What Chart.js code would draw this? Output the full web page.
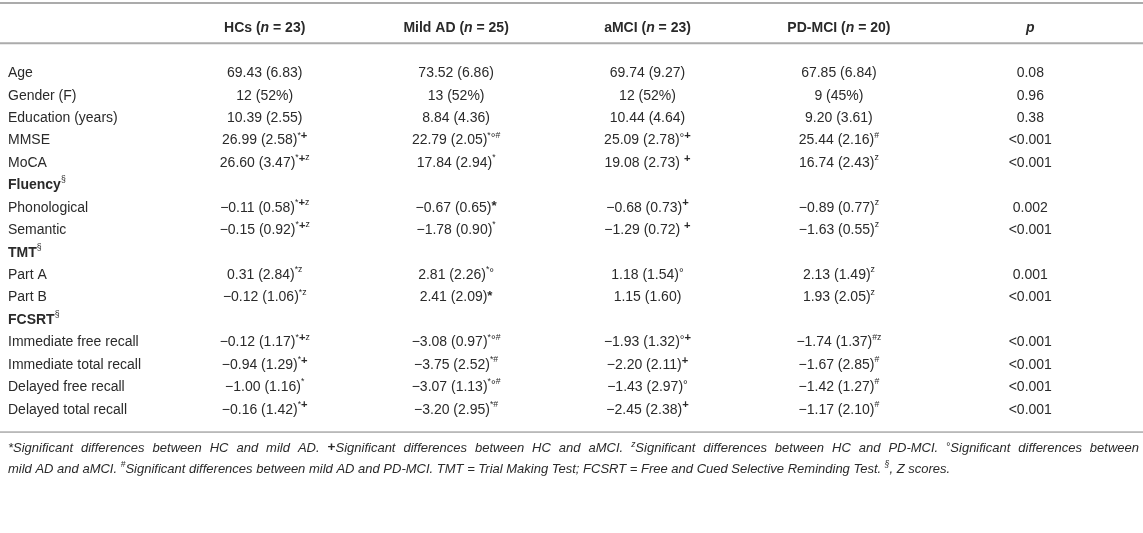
<!DOCTYPE html>
<html>
<head>
<meta charset="utf-8">
<script src="https://cdn.jsdelivr.net/npm/chart.js@4/dist/chart.umd.min.js"></script>
<style>
  body { margin: 0; background: #fff; }
  #wrap { width: 1143px; height: 533px; position: relative; }
</style>
</head>
<body>
<div id="wrap"><canvas id="tableChart"></canvas></div>
<script>
// --- Table data (text after "^" is drawn as superscript, "@" = bold asterisk, "o" = degree ring) ---
const groups = ['HCs', 'Mild AD', 'aMCI', 'PD-MCI'];
const groupN = [23, 25, 23, 20];
const columns = ['HCs', 'Mild AD', 'aMCI', 'PD-MCI', 'p'];

const rowLabels = ['Age', 'Gender (F)', 'Education (years)', 'MMSE', 'MoCA', 'Fluency',
  'Phonological', 'Semantic', 'TMT', 'Part A', 'Part B', 'FCSRT',
  'Immediate free recall', 'Immediate total recall', 'Delayed free recall', 'Delayed total recall'];
const sectionRows = ['Fluency', 'TMT', 'FCSRT'];

const hcValues = ['69.43 (6.83)', '12 (52%)', '10.39 (2.55)', '26.99 (2.58)^*+', '26.60 (3.47)^*+z', '',
  '\u22120.11 (0.58)^*+z', '\u22120.15 (0.92)^*+z', '', '0.31 (2.84)^*z', '\u22120.12 (1.06)^*z', '',
  '\u22120.12 (1.17)^*+z', '\u22120.94 (1.29)^*+', '\u22121.00 (1.16)^*', '\u22120.16 (1.42)^*+'];
const adValues = ['73.52 (6.86)', '13 (52%)', '8.84 (4.36)', '22.79 (2.05)^*o#', '17.84 (2.94)^*', '',
  '\u22120.67 (0.65)^@', '\u22121.78 (0.90)^*', '', '2.81 (2.26)^*o', '2.41 (2.09)^@', '',
  '\u22123.08 (0.97)^*o#', '\u22123.75 (2.52)^*#', '\u22123.07 (1.13)^*o#', '\u22123.20 (2.95)^*#'];
const amciValues = ['69.74 (9.27)', '12 (52%)', '10.44 (4.64)', '25.09 (2.78)^o+', '19.08 (2.73) ^+', '',
  '\u22120.68 (0.73)^+', '\u22121.29 (0.72) ^+', '', '1.18 (1.54)^o', '1.15 (1.60)', '',
  '\u22121.93 (1.32)^o+', '\u22122.20 (2.11)^+', '\u22121.43 (2.97)^o', '\u22122.45 (2.38)^+'];
const pdValues = ['67.85 (6.84)', '9 (45%)', '9.20 (3.61)', '25.44 (2.16)^#', '16.74 (2.43)^z', '',
  '\u22120.89 (0.77)^z', '\u22121.63 (0.55)^z', '', '2.13 (1.49)^z', '1.93 (2.05)^z', '',
  '\u22121.74 (1.37)^#z', '\u22121.67 (2.85)^#', '\u22121.42 (1.27)^#', '\u22121.17 (2.10)^#'];
const pValues = ['0.08', '0.96', '0.38', '<0.001', '<0.001', '',
  '0.002', '<0.001', '', '0.001', '<0.001', '',
  '<0.001', '<0.001', '<0.001', '<0.001'];

const footLine1 = [['*', ''], ['Significant differences between HC and mild AD. ', ''], ['+', 'plus'],
  ['Significant differences between HC and aMCI. ', ''], ['z', 'sup'], ['Significant differences between HC and PD-MCI. ', ''],
  ['\u00B0', 'deg'], ['Significant differences between', '']];
const footLine2 = [['mild AD and aMCI. ', ''], ['#', 'sup'], ['Significant differences between mild AD and PD-MCI. TMT = Trial Making Test; FCSRT = Free and Cued Selective Reminding Test. ', ''],
  ['\u00A7', 'sup'], [', Z scores.', '']];

const FONT = '"Liberation Sans", Arial, Helvetica, sans-serif';
const TEXT = '#2a2a2a';
const RULE = '#ababab';

function setFont(ctx, r) {
  ctx.font = `${r.style || 'normal'} ${r.weight || 'normal'} ${r.size}px ${FONT}`;
}

// draw a list of runs {t, size, weight, style, dy}; align 'center', 'left' or 'justify' (needs width)
function drawRuns(ctx, runs, x, y, align, width) {
  let total = 0, spaces = 0;
  runs.forEach(r => {
    setFont(ctx, r);
    r.w = ctx.measureText(r.t).width;
    total += r.w;
    spaces += (r.t.match(/ /g) || []).length;
  });
  const extra = align === 'justify' && spaces ? (width - total) / spaces : 0;
  let cx = align === 'center' ? x - total / 2 : x;
  ctx.textAlign = 'left';
  ctx.textBaseline = 'middle';
  runs.forEach(r => {
    setFont(ctx, r);
    if (!extra) {
      ctx.fillText(r.t, cx, y + (r.dy || 0));
      cx += r.w;
      return;
    }
    const words = r.t.split(' ');
    const sw = ctx.measureText(' ').width;
    words.forEach((wd, k) => {
      if (wd) ctx.fillText(wd, cx, y + (r.dy || 0));
      cx += ctx.measureText(wd).width;
      if (k < words.length - 1) cx += sw + extra;
    });
  });
}

function cellRuns(str, size) {
  const parts = str.split('^');
  const runs = [{ t: parts[0], size: size }];
  if (parts.length > 1) {
    for (const ch of parts[1]) {
      if (ch === '+') runs.push({ t: ch, size: size * 0.8, weight: 'bold', dy: -size * 0.32 });
      else if (ch === '@') runs.push({ t: '*', size: size * 0.95, weight: 'bold', dy: -size * 0.12 });
      else if (ch === 'o') runs.push({ t: '\u00B0', size: size * 0.85, dy: -size * 0.12 });
      else runs.push({ t: ch, size: size * 0.62, dy: -size * 0.38 });
    }
  }
  return runs;
}

const tablePlugin = {
  id: 'tableText',
  afterDatasetsDraw(chart) {
    const ctx = chart.ctx;
    const xs = chart.scales.x;
    const ys = chart.scales.y;
    const area = chart.chartArea;
    const size = 14;
    const step = ys.getPixelForValue(1) - ys.getPixelForValue(0);
    const headerY = area.top - step * 1.5;
    ctx.save();

    // rules
    ctx.fillStyle = RULE;
    ctx.fillRect(0, 2, chart.width, 2);
    ctx.fillRect(0, area.top - step * 0.88, chart.width, 2);
    ctx.fillRect(0, area.bottom + step * 0.46, chart.width, 1.5);
    ctx.fillStyle = TEXT;

    // header
    groups.forEach((g, i) => {
      drawRuns(ctx, [
        { t: g + ' (', size: size, weight: 'bold' },
        { t: 'n', size: size, weight: 'bold', style: 'italic' },
        { t: ' = ' + groupN[i] + ')', size: size, weight: 'bold' }
      ], xs.getPixelForValue(i), headerY, 'center');
    });
    drawRuns(ctx, [{ t: 'p', size: size, weight: 'bold', style: 'italic' }],
      xs.getPixelForValue(4), headerY, 'center');

    // row labels
    rowLabels.forEach((lab, j) => {
      const y = ys.getPixelForValue(j);
      if (sectionRows.includes(lab)) {
        drawRuns(ctx, [{ t: lab, size: size, weight: 'bold' },
          { t: '\u00A7', size: size * 0.62, dy: -size * 0.38 }], 8, y, 'left');
      } else {
        drawRuns(ctx, [{ t: lab, size: size }], 8, y, 'left');
      }
    });

    // cells, placed at each dataset point
    chart.data.datasets.forEach((ds, i) => {
      const meta = chart.getDatasetMeta(i);
      meta.data.forEach((pt, j) => {
        const txt = ds.cells[j];
        if (txt) drawRuns(ctx, cellRuns(txt, size), pt.x, pt.y, 'center');
      });
    });

    // footnote (first line justified across the table)
    const fs = 13;
    const footRuns = line => line.map(([t, kind]) => {
      if (kind === 'sup') return { t, size: fs * 0.65, style: 'italic', dy: -fs * 0.35 };
      if (kind === 'deg') return { t, size: fs * 0.8, dy: -fs * 0.12 };
      if (kind === 'plus') return { t, size: fs * 1.05, weight: 'bold', dy: -fs * 0.1 };
      return { t, size: fs, style: 'italic' };
    });
    const fy = area.bottom + step * 1.24;
    drawRuns(ctx, footRuns(footLine1), 8, fy, 'justify', chart.width - 12);
    drawRuns(ctx, footRuns(footLine2), 8, fy + step * 0.93, 'left');
    ctx.restore();
  }
};

const columnCells = [hcValues, adValues, amciValues, pdValues, pValues];

document.addEventListener('DOMContentLoaded', function() {
  const ctx = document.getElementById('tableChart');
  new Chart(ctx, {
    type: 'scatter',
    data: {
      datasets: columns.map((col, i) => ({
        label: col,
        cells: columnCells[i],
        data: rowLabels.map(r => ({ x: col, y: r })),
        pointRadius: 0,
        pointHoverRadius: 0
      }))
    },
    options: {
      responsive: true,
      maintainAspectRatio: false,
      animation: false,
      events: [],
      layout: { padding: { left: 169, right: 17, top: 62, bottom: 112 } },
      plugins: { legend: { display: false }, tooltip: { enabled: false } },
      scales: {
        x: { type: 'category', labels: columns, offset: true, display: false },
        y: { type: 'category', labels: rowLabels, offset: true, display: false }
      }
    },
    plugins: [tablePlugin]
  });
});
</script>
</body>
</html>
